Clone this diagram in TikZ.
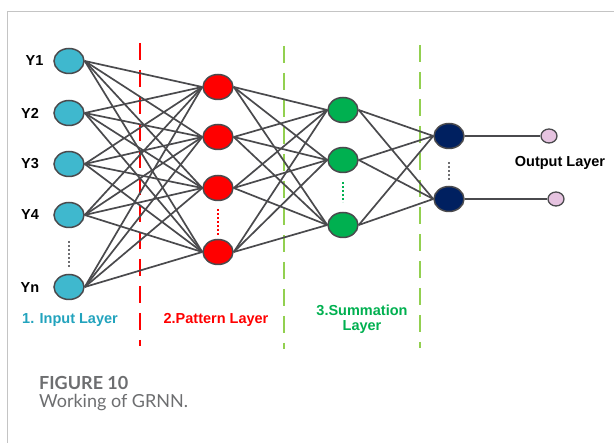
\documentclass[tikz,border=0pt]{standalone}
\usepackage{fontspec}
\setmainfont{Liberation Sans}
\newfontfamily\capfont{Lato}
\usetikzlibrary{shapes.geometric}
\definecolor{inblue}{HTML}{3FB8CE}
\definecolor{patred}{HTML}{FF0000}
\definecolor{sumgreen}{HTML}{00B050}
\definecolor{outnavy}{HTML}{002060}
\definecolor{pinkout}{HTML}{E6C3E0}
\definecolor{edgegray}{HTML}{4A4A4D}
\definecolor{sepgreen}{HTML}{92D050}
\definecolor{labteal}{HTML}{22A3BD}
\definecolor{capgray}{HTML}{6D6E70}
\definecolor{framegray}{HTML}{C4C4C4}

\begin{document}
\begin{tikzpicture}[x=1pt,y=-1pt,
    neuron/.style={ellipse,draw=edgegray,line width=1.5pt,minimum width=30pt,minimum height=25pt,inner sep=0pt},
    tip/.style={ellipse,draw=edgegray,line width=1.3pt,fill=pinkout,minimum width=16pt,minimum height=14pt,inner sep=0pt},
    link/.style={draw=edgegray,line width=1.7pt},
    sepline/.style={line width=1.2pt,dash pattern=on 17pt off 10pt},
    dotline/.style={line width=2pt,dash pattern=on 2pt off 2pt},
    lbl/.style={font=\bfseries\fontsize{14.5}{15}\selectfont,inner sep=0pt}]
    \useasboundingbox (0,0) rectangle (614,443);
    \draw[framegray,line width=1pt] (7,443) -- (7,11.5) -- (614,11.5);

    % separators
    \draw[sepline,patred] (140,43) -- (140,346);
    \draw[sepline,sepgreen] (284,46) -- (284,349);
    \draw[sepline,sepgreen] (420,45) -- (420,348);

    % layers
    \foreach \n/\y in {1/61,2/113,3/164,4/215,5/287}
        \node[neuron,fill=inblue] (in\n) at (69,\y) {};
    \foreach \n/\y in {1/87,2/137,3/188,4/252}
        \node[neuron,fill=patred] (pat\n) at (218,\y) {};
    \foreach \n/\y in {1/110,2/160,3/225}
        \node[neuron,fill=sumgreen] (sum\n) at (343,\y) {};
    \node[neuron,fill=outnavy] (out1) at (449,136) {};
    \node[neuron,fill=outnavy] (out2) at (449,199) {};
    \node[tip] (end1) at (549,136) {};
    \node[tip] (end2) at (556,199) {};

    % connections
    \foreach \i in {1,...,5}
        \foreach \j in {1,...,4}
            \draw[link] (in\i.east) -- (pat\j.west);
    \foreach \i in {1,...,4}
        \foreach \j in {1,...,3}
            \draw[link] (pat\i.east) -- (sum\j.west);
    \foreach \i in {1,...,3}
        \foreach \j in {1,2}
            \draw[link] (sum\i.east) -- (out\j.west);
    \draw[link] (out1.east) -- (end1.west);
    \draw[link] (out2.east) -- (end2.west);

    % dots
    \draw[dotline,edgegray!80] (69,241) -- (69,267);
    \draw[dotline,patred] (218,209) -- (218,235);
    \draw[dotline,sumgreen] (343,182) -- (343,202);
    \draw[dotline,edgegray!80] (449,162) -- (449,180);

    % labels
    \node[lbl] (ly1) at (34.5,61) {Y1};
    \node[lbl] (ly2) at (30,113) {Y2};
    \node[lbl] (ly3) at (30,164) {Y3};
    \node[lbl] (ly4) at (30,215) {Y4};
    \node[lbl] (lyn) at (30,288) {Yn};
    \node[lbl,labteal] (lin) at (70,320) {1. Input Layer};
    \node[lbl,patred] (lpat) at (216,320) {2.Pattern Layer};
    \node[lbl,sumgreen,align=center] (lsum) at (362,319.5) {3.Summation\\Layer};
    \node[lbl] (lout) at (560,163) {Output Layer};

    % caption
    \node[anchor=base west,inner sep=0pt,capgray,font=\capfont\bfseries\fontsize{18}{20}\selectfont] (fig) at (39,389.5) {FIGURE 10};
    \node[anchor=base west,inner sep=0pt,capgray,font=\capfont\fontsize{18}{20}\selectfont] (cap) at (39,407.5) {Working of GRNN.};
\end{tikzpicture}
\end{document}
